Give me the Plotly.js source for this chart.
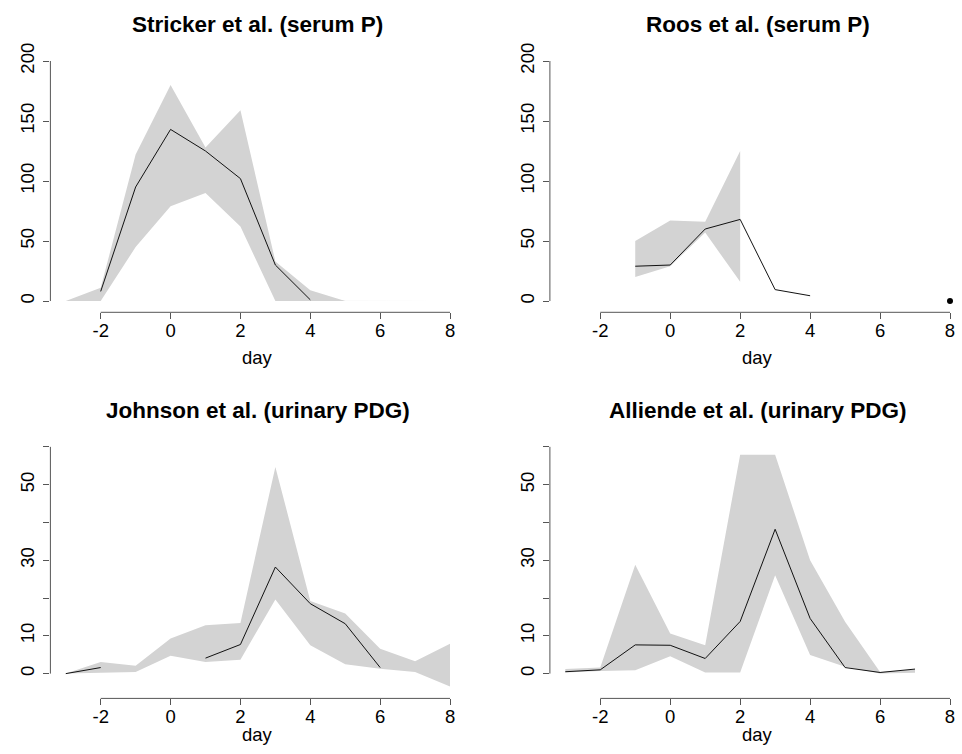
<!DOCTYPE html>
<html>
<head>
<meta charset="utf-8">
<script src="https://cdn.plot.ly/plotly-3.0.1.min.js"></script>
<style>html,body{margin:0;padding:0;background:#fff}#chart{width:962px;height:754px}</style>
</head>
<body>
<div id="chart"></div>
<script>
// ---- data ----
const days = [-3, -2, -1, 0, 1, 2, 3, 4, 5, 6, 7, 8];
const xTicks = [-2, 0, 2, 4, 6, 8];

const strickerMean  = [null, 8, 95, 143, 125, 102, 30, 1, null, null, null, null];
const strickerUpper = [0, 11, 122, 180, 128, 159, 33, 9, 0, 0, 0.3, 0.3];
const strickerLower = [0, 0, 45, 79, 90, 62, 0, 0, 0, 0, 0, 0];

const roosMean  = [null, null, 29, 30, 60, 68, 9.5, 4.4, null, null, null, null];
const roosUpper = [null, null, 50, 67, 66, 125, null, null, null, null, null, null];
const roosLower = [null, null, 20, 29, 57, 16, null, null, null, null, null, null];
const roosPointDay = [8];
const roosPointValue = [0];

const johnsonMean  = [0, 1.6, null, null, 4.1, 7.7, 28.2, 18.5, 13.2, 1.6, null, null];
const johnsonUpper = [0, 3.1, 2.1, 9.3, 12.8, 13.4, 54.7, 19.2, 15.9, 6.6, 3.3, 7.9];
const johnsonLower = [0, 0.2, 0.4, 4.7, 3.1, 3.7, 19.6, 7.5, 2.5, 1.3, 0.4, -3.4];

const alliendeMean  = [0.5, 1.0, 7.6, 7.5, 4.0, 13.8, 38.2, 14.6, 1.6, 0.3, 1.2, null];
const alliendeUpper = [1.2, 1.6, 28.8, 10.6, 7.5, 57.9, 57.9, 30, 13.7, 0.4, 1.1, null];
const alliendeLower = [0.3, 0.7, 0.9, 4.6, 0.3, 0.3, 26, 4.9, 1.8, 0, 0.2, null];

const titles = ["Stricker et al. (serum P)", "Roos et al. (serum P)",
                "Johnson et al. (urinary PDG)", "Alliende et al. (urinary PDG)"];
const xTitle = "day";
const serumTicks = [0, 50, 100, 150, 200];
const serumTickText = ["0", "50", "100", "150", "200"];
const urineTicks = [0, 10, 20, 30, 40, 50, 60];
const urineTickText = ["0", "10", "", "30", "", "50", ""];

// ---- build ----
const FONT = "Liberation Sans, Arial, Helvetica, sans-serif";
const W = 962, H = 754;
const AX = "#555";

function band(up, lo) {
  const xs = [], ys = [];
  days.forEach((d, i) => { if (up[i] !== null) { xs.push(d); ys.push(up[i]); } });
  for (let i = days.length - 1; i >= 0; i--) {
    if (lo[i] !== null) { xs.push(days[i]); ys.push(lo[i]); }
  }
  return {x: xs, y: ys};
}

const panels = [
  {mean: strickerMean, up: strickerUpper, lo: strickerLower, yt: serumTicks, ytt: serumTickText},
  {mean: roosMean, up: roosUpper, lo: roosLower, yt: serumTicks, ytt: serumTickText},
  {mean: johnsonMean, up: johnsonUpper, lo: johnsonLower, yt: urineTicks, ytt: urineTickText},
  {mean: alliendeMean, up: alliendeUpper, lo: alliendeLower, yt: urineTicks, ytt: urineTickText}
];

// pixel geometry of each plot region
const geo = [
  {l: 50.4, r: 465.4, t: 49.0, b: 312.3, xr: [-3.44, 8.44], yr: [-9.4, 210], ty: 24, dy: 357},
  {l: 549.9, r: 962, t: 49.0, b: 312.3, xr: [-3.44, 8.343], yr: [-9.4, 210], ty: 24, dy: 357},
  {l: 50.4, r: 465.4, t: 437.2, b: 698.4, xr: [-3.44, 8.44], yr: [-6.56, 62.56], ty: 410.3, dy: 734},
  {l: 549.9, r: 962, t: 437.2, b: 698.4, xr: [-3.44, 8.343], yr: [-6.56, 62.56], ty: 410.3, dy: 734}
];

const traces = [];
const layout = {
  width: W, height: H,
  margin: {l: 0, r: 0, t: 0, b: 0},
  paper_bgcolor: "#fff", plot_bgcolor: "#fff",
  showlegend: false,
  font: {family: FONT, color: "#000"},
  shapes: [], annotations: []
};

panels.forEach((p, k) => {
  const n = k + 1;
  const xa = n === 1 ? "x" : "x" + n;
  const ya = n === 1 ? "y" : "y" + n;
  const b = band(p.up, p.lo);
  traces.push({x: b.x, y: b.y, xaxis: xa, yaxis: ya, type: "scatter", mode: "lines",
    fill: "toself", fillcolor: "#d3d3d3", line: {width: 0, color: "#d3d3d3"}, hoverinfo: "skip"});
  traces.push({x: days, y: p.mean, xaxis: xa, yaxis: ya, type: "scatter", mode: "lines",
    connectgaps: false, line: {color: "#111", width: 1}});
  const g = geo[k];
  const cx = ((g.l + (k % 2 === 1 ? 965.4 : g.r)) / 2) / W;
  layout["xaxis" + (n === 1 ? "" : n)] = {
    domain: [g.l / W, g.r / W], range: g.xr, anchor: ya,
    tickvals: xTicks, ticktext: xTicks.map(String),
    ticks: "outside", ticklen: 6, tickcolor: AX, tickwidth: 1, ticklabelstandoff: -5,
    showline: false, zeroline: false, showgrid: false, fixedrange: true,
    tickfont: {size: 18.5, family: FONT, color: "#000"}
  };
  layout["yaxis" + (n === 1 ? "" : n)] = {
    domain: [1 - g.b / H, 1 - g.t / H], range: g.yr, anchor: xa,
    tickvals: p.yt, ticktext: p.ytt, tickangle: -90,
    ticks: "outside", ticklen: 6, tickcolor: AX, tickwidth: 1, ticklabelstandoff: 2,
    showline: false, zeroline: false, showgrid: false, fixedrange: true,
    tickfont: {size: 18.5, family: FONT, color: "#000"}
  };
  layout.shapes.push({type: "line", xref: xa, yref: ya + " domain",
    x0: xTicks[0], x1: xTicks[xTicks.length - 1], y0: 0, y1: 0, line: {color: AX, width: 1}});
  layout.shapes.push({type: "line", xref: xa + " domain", yref: ya,
    x0: 0, x1: 0, y0: p.yt[0], y1: p.yt[p.yt.length - 1], line: {color: AX, width: 1}});
  layout.annotations.push({text: "<b>" + titles[k] + "</b>", xref: "paper", yref: "paper",
    x: cx, y: 1 - g.ty / H,
    xanchor: "center", yanchor: "middle", showarrow: false,
    font: {size: 22.5, family: FONT, color: "#000"}});
  layout.annotations.push({text: xTitle, xref: "paper", yref: "paper",
    x: cx, y: 1 - g.dy / H,
    xanchor: "center", yanchor: "middle", showarrow: false,
    font: {size: 18.5, family: FONT, color: "#000"}});
});

traces.push({x: roosPointDay, y: roosPointValue, xaxis: "x2", yaxis: "y2", type: "scatter",
  mode: "markers", marker: {color: "#000", size: 6}, cliponaxis: false});

Plotly.newPlot("chart", traces, layout, {displayModeBar: false, staticPlot: true});
</script>
</body>
</html>
